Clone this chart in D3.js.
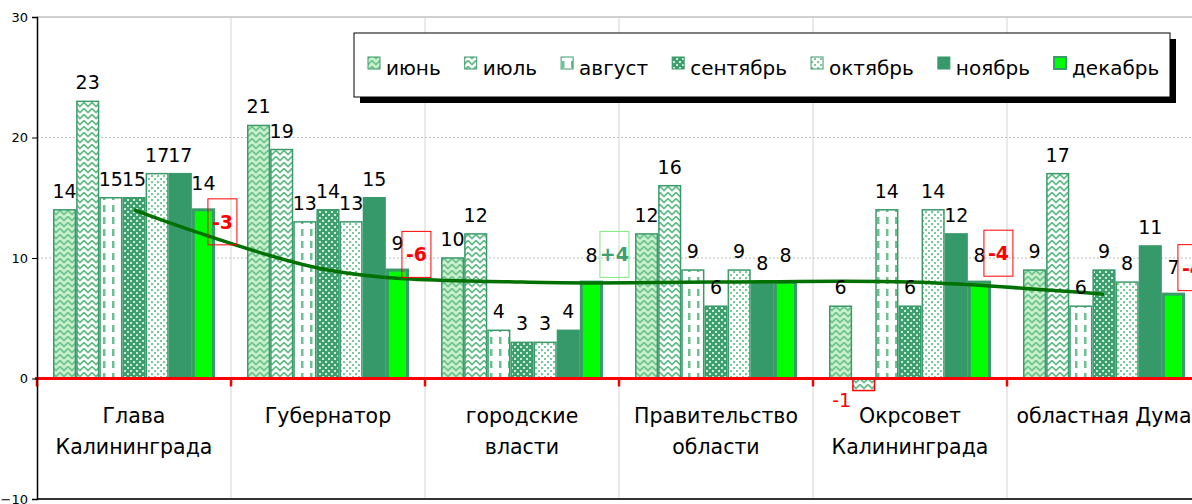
<!DOCTYPE html>
<html>
<head>
<meta charset="utf-8">
<script src="https://cdn.jsdelivr.net/npm/d3@7"></script>
<style>
  body { margin: 0; background: #fff; overflow: hidden; }
  text { font-family: "DejaVu Sans", sans-serif; }
</style>
</head>
<body>
<script>
// категории и месяцы
var categories = [["Глава", "Калининграда"], ["Губернатор"], ["городские", "власти"],
                  ["Правительство", "области"], ["Окрсовет", "Калининграда"], ["областная Дума"]];
var months = ["июнь", "июль", "август", "сентябрь", "октябрь", "ноябрь", "декабрь"];

var june      = [14, 21, 10, 12,  6,  9];
var july      = [23, 19, 12, 16, -1, 17];
var august    = [15, 13,  4,  9, 14,  6];
var september = [15, 14,  3,  6,  6,  9];
var october   = [17, 13,  3,  9, 14,  8];
var november  = [17, 15,  4,  8, 12, 11];
var december  = [14,  9,  8,  8,  8,  7];

// где стоят рамки с изменением (в единицах оси)
var diffLabelAt = [13, 10.3, 10.3, null, 10.4, 9.2];

var yTicks = [-10, 0, 10, 20, 30];

var series = [june, july, august, september, october, november, december];

var width = 1192, height = 504;
var plotLeft = 37, plotTop = 17, plotBottom = 499, bandW = 194;

var svg = d3.select("body")
            .append("svg")
            .attr("width", width)
            .attr("height", height);

var defs = svg.append("defs");

// узоры заливки
function zigzag(id, bg, fg) {
  var p = defs.append("pattern").attr("id", id)
    .attr("patternUnits", "userSpaceOnUse").attr("width", 8).attr("height", 6);
  p.append("rect").attr("width", 8).attr("height", 6).attr("fill", bg);
  p.append("path").attr("d", "M-1,5.5 L4,0.5 L9,5.5")
    .attr("fill", "none").attr("stroke", fg).attr("stroke-width", 1.8);
}
zigzag("p0", "#c9f2cb", "#72c492");
zigzag("p1", "#ffffff", "#68bc8c");

var p2 = defs.append("pattern").attr("id", "p2")
  .attr("patternUnits", "userSpaceOnUse").attr("width", 9).attr("height", 12);
p2.append("rect").attr("width", 9).attr("height", 12).attr("fill", "#fff");
p2.append("rect").attr("x", 4).attr("y", 1).attr("width", 2.5).attr("height", 7).attr("fill", "#6cbf90");

var p3 = defs.append("pattern").attr("id", "p3")
  .attr("patternUnits", "userSpaceOnUse").attr("width", 6).attr("height", 6);
p3.append("rect").attr("width", 6).attr("height", 6).attr("fill", "#3f9f70");
p3.append("rect").attr("x", 1).attr("y", 1).attr("width", 2).attr("height", 2).attr("fill", "#c8ecd4");
p3.append("rect").attr("x", 4).attr("y", 4).attr("width", 2).attr("height", 2).attr("fill", "#c8ecd4");

var p4 = defs.append("pattern").attr("id", "p4")
  .attr("patternUnits", "userSpaceOnUse").attr("width", 6).attr("height", 6);
p4.append("rect").attr("width", 6).attr("height", 6).attr("fill", "#fff");
p4.append("rect").attr("x", 1).attr("y", 1).attr("width", 2.2).attr("height", 2.2).attr("fill", "#7cc99a");
p4.append("rect").attr("x", 4).attr("y", 4).attr("width", 2.2).attr("height", 2.2).attr("fill", "#7cc99a");

var fills = ["url(#p0)", "url(#p1)", "url(#p2)", "url(#p3)", "url(#p4)", "#35996a", "#00ff00"];
var edge = "#3a9a6a";

var x0 = d3.scaleBand()
  .domain(d3.range(categories.length))
  .range([plotLeft, plotLeft + bandW * categories.length]);

var x1 = d3.scaleBand()
  .domain(d3.range(months.length))
  .range([16, 178]);

var y = d3.scaleLinear()
  .domain([-10, 30])
  .range([plotBottom, plotTop]);

// сетка
svg.append("g").selectAll("line")
  .data([10, 20])
  .enter().append("line")
  .attr("x1", plotLeft).attr("x2", width)
  .attr("y1", function(d) { return y(d); }).attr("y2", function(d) { return y(d); })
  .style("stroke", "#bdbdbd").style("stroke-dasharray", "2,2");

svg.append("line")
  .attr("x1", plotLeft).attr("x2", width).attr("y1", y(30)).attr("y2", y(30))
  .style("stroke", "#a0a0a0");

svg.append("g").selectAll("line")
  .data(d3.range(1, categories.length))
  .enter().append("line")
  .attr("x1", function(d) { return x0(d); }).attr("x2", function(d) { return x0(d); })
  .attr("y1", plotTop).attr("y2", plotBottom)
  .style("stroke", "#d4d4d4");

// столбцы
var cells = [];
series.forEach(function(s, j) {
  s.forEach(function(v, i) { cells.push({cat: i, m: j, v: v}); });
});

svg.append("g").selectAll("rect")
  .data(cells)
  .enter().append("rect")
  .attr("x", function(d) { return x0(d.cat) + x1(d.m) + (d.m == 6 ? 1.5 : 0.75); })
  .attr("width", function(d) { return x1.bandwidth() - (d.m == 6 ? 3 : 1.5); })
  .attr("y", function(d) { return y(Math.max(0, d.v)); })
  .attr("height", function(d) { return Math.abs(y(d.v) - y(0)); })
  .style("fill", function(d) { return fills[d.m]; })
  .style("stroke", function(d) { return d.v < 0 ? "#ff0000" : edge; })
  .style("stroke-width", function(d) { return d.m == 6 ? 3 : 1.5; });

// линия тренда по декабрю
var line = d3.line()
  .x(function(d, i) { return x0(i) + x0.bandwidth() / 2; })
  .y(function(d) { return y(d); })
  .curve(d3.curveCatmullRom.alpha(0.5));

svg.append("path")
  .datum(december)
  .attr("d", line)
  .style("fill", "none")
  .style("stroke", "#007000")
  .style("stroke-width", 3.5);

// нулевая линия и оси
svg.append("line")
  .attr("x1", plotLeft - 2).attr("x2", width).attr("y1", y(0)).attr("y2", y(0))
  .style("stroke", "#ff0000").style("stroke-width", 3);

svg.append("g").selectAll("line")
  .data(d3.range(categories.length + 1))
  .enter().append("line")
  .attr("x1", function(d) { return plotLeft + d * bandW; }).attr("x2", function(d) { return plotLeft + d * bandW; })
  .attr("y1", y(0)).attr("y2", y(0) + 8)
  .style("stroke", "#ff0000").style("stroke-width", 2.5);

svg.append("line")
  .attr("x1", plotLeft).attr("x2", width).attr("y1", plotBottom).attr("y2", plotBottom)
  .style("stroke", "#333").style("stroke-width", 2);

var yAxis = svg.append("g")
  .attr("transform", "translate(" + plotLeft + ",0)")
  .call(d3.axisLeft(y).tickValues(yTicks).tickSize(5).tickPadding(4));
yAxis.select(".domain").style("stroke", "#000").style("stroke-width", 1.5);
yAxis.selectAll("line").style("stroke", "#000");
yAxis.selectAll("text").attr("font-size", "13px").attr("fill", "#000")
  .attr("font-family", "DejaVu Sans");

// подписи значений
svg.append("g").selectAll("text")
  .data(cells)
  .enter().append("text")
  .attr("x", function(d) {
    var c = x0(d.cat) + x1(d.m) + x1.bandwidth() / 2;
    return d.v < 0 ? c - 22 : c;
  })
  .attr("y", function(d) {
    if (d.v < 0) return y(d.v) + 16;
    return y(d.v) - (d.m == 6 ? 20 : 12);
  })
  .attr("text-anchor", "middle")
  .attr("font-size", "19px")
  .attr("fill", function(d) { return d.v < 0 ? "#ff0000" : "#000"; })
  .text(function(d) { return d.v; });

// рамки с изменением декабрь - ноябрь
var diffs = december.map(function(v, i) { return {cat: i, d: v - november[i], at: diffLabelAt[i]}; })
  .filter(function(d) { return d.d != 0; });

var box = svg.append("g").selectAll("g")
  .data(diffs)
  .enter().append("g")
  .attr("transform", function(d) {
    var cx = x0(d.cat) + x1(6) + x1.bandwidth() / 2 + (d.d > 0 ? 23 : 19);
    return "translate(" + cx + "," + y(d.at) + ")";
  });

box.append("rect")
  .attr("x", -14.5).attr("y", -23).attr("width", 29).attr("height", 46)
  .style("fill", "none")
  .style("stroke", function(d) { return d.d > 0 ? "#7fe87f" : "#ff0000"; });

box.append("text")
  .attr("y", 7)
  .attr("text-anchor", "middle")
  .attr("font-size", "19px")
  .attr("font-weight", "bold")
  .attr("fill", function(d) { return d.d > 0 ? "#3f9f70" : "#ff0000"; })
  .text(function(d) { return (d.d > 0 ? "+" : "") + d.d; });

// подписи категорий
var cat = svg.append("g").selectAll("text")
  .data(categories)
  .enter().append("text")
  .attr("x", function(d, i) { return x0(i) + x0.bandwidth() / 2; })
  .attr("y", 423)
  .attr("text-anchor", "middle")
  .attr("font-size", "20.5px")
  .attr("fill", "#000");

cat.selectAll("tspan")
  .data(function(d) { return d; })
  .enter().append("tspan")
  .attr("x", function() { return d3.select(this.parentNode).attr("x"); })
  .attr("dy", function(d, i) { return i == 0 ? 0 : 31; })
  .text(function(d) { return d; });

// легенда
var lg = svg.append("g");
lg.append("rect")
  .attr("x", 360).attr("y", 39).attr("width", 816).attr("height", 64)
  .style("fill", "#000");
lg.append("rect")
  .attr("x", 354).attr("y", 33).attr("width", 816).attr("height", 64)
  .style("fill", "#fff").style("stroke", "#000");

var lx = 368;
months.forEach(function(m, j) {
  lg.append("rect")
    .attr("x", lx).attr("y", 57).attr("width", 12).attr("height", 12)
    .style("fill", fills[j]).style("stroke", edge).style("stroke-width", j == 6 ? 2 : 1);
  var t = lg.append("text")
    .attr("x", lx + 18).attr("y", 75)
    .attr("font-size", "20px")
    .attr("fill", "#000")
    .text(m);
  lx += 18 + t.node().getComputedTextLength() + 24;
});
</script>
</body>
</html>
